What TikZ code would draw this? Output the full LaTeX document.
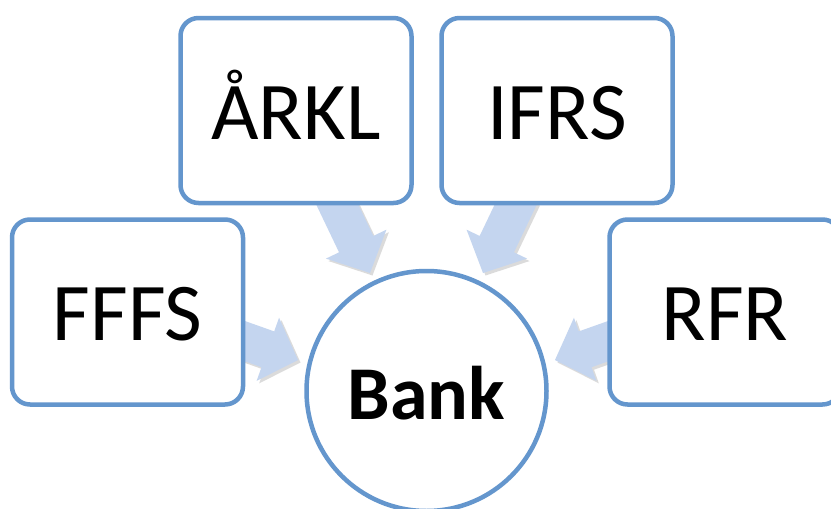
\documentclass[tikz,border=0pt]{standalone}
\usepackage{fontspec}
\setmainfont{Carlito}
\usetikzlibrary{calc,shadows}
\definecolor{edgeblue}{RGB}{100,150,205}
\definecolor{arrowblue}{RGB}{196,213,239}
\tikzset{
  box/.style={draw=edgeblue, line width=4.5pt, fill=white, rounded corners=18pt,
    minimum width=231pt, minimum height=185pt, inner sep=0pt,
    text height=57pt, text depth=0pt, font=\fontsize{82}{90}\selectfont},
  hub/.style={draw=edgeblue, line width=4.5pt, fill=white, circle,
    minimum size=240pt, inner sep=0pt,
    text height=57pt, text depth=0pt, font=\fontsize{76}{84}\selectfont\bfseries},
  arrowfill/.style={fill=arrowblue,
    drop shadow={shadow xshift=2.5pt, shadow yshift=-2.5pt, opacity=0.28, fill=gray}}
}
\begin{document}
\begin{tikzpicture}[x=1pt,y=-1pt]
\useasboundingbox (0,0) rectangle (831,509);
\clip (0,0) rectangle (831,509);
\fill[white] (0,0) rectangle (831,509);
% arrow end points
\coordinate (sA) at (332.7,195);
\coordinate (tA) at (370,273);
\coordinate (sB) at (520.3,195);
\coordinate (tB) at (483,273);
\coordinate (sC) at (236,338);
\coordinate (tC) at (298,360);
\coordinate (sD) at (617,338);
\coordinate (tD) at (555,360);
\foreach \s/\t in {sA/tA, sB/tB, sC/tC, sD/tD} {
  \coordinate (\s-h) at ($(\t)!32pt!(\s)$);
  \fill[arrowfill] ($(\s)!19pt!90:(\t)$) -- ($(\s-h)!19pt!90:(\t)$)
    -- ($(\s-h)!33.5pt!90:(\t)$) -- (\t) -- ($(\s-h)!33.5pt!-90:(\t)$)
    -- ($(\s-h)!19pt!-90:(\t)$) -- ($(\s)!19pt!-90:(\t)$) -- cycle;
}
\node[box] (fffs) at (127.5,312) {FFFS};
\node[box] (arkl) at (296,110.5) {ÅRKL};
\node[box] (ifrs) at (557,110.5) {IFRS};
\node[box] (rfr) at (725,312) {RFR};
\node[hub] (bank) at (426.5,391) {Bank};
\end{tikzpicture}
\end{document}
